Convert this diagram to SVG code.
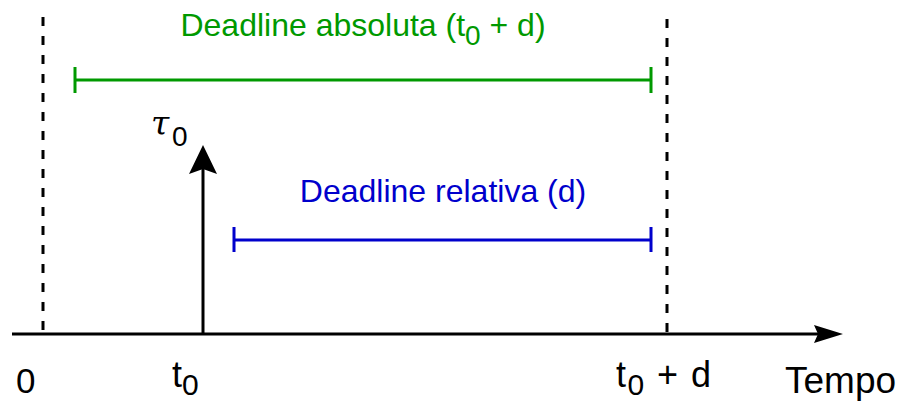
<svg xmlns="http://www.w3.org/2000/svg" width="902" height="401" viewBox="0 0 902 401">
<style>
  .txt { font-family: "Liberation Sans", Arial, sans-serif; }
  .axis { stroke: #000; stroke-width: 3; fill: none; }
  .dash { stroke: #000; stroke-width: 3; stroke-dasharray: 9 10; fill: none; }
  .green { stroke: #009900; stroke-width: 3; fill: none; }
  .blue { stroke: #0000CC; stroke-width: 3; fill: none; }
</style>
<rect width="902" height="401" fill="#fff"/>
<g id="connectors">
  <line class="axis" x1="12" y1="334" x2="820" y2="334"/>
  <polygon points="814,325 843,334 814,343 818,334" fill="#000"/>
  <line class="axis" x1="203" y1="334" x2="203" y2="168"/>
  <polygon points="189,174 203,145 217,174 203,169" fill="#000"/>
  <line class="dash" x1="43" y1="17" x2="43" y2="334"/>
  <line class="dash" x1="667" y1="19" x2="667" y2="334"/>
</g>
<g id="absolute-deadline">
  <path class="green" d="M75,80 H651 M75,67 V93 M651,67 V93"/>
  <text class="txt" x="363" y="36" font-size="32" fill="#009900" text-anchor="middle">Deadline absoluta (t<tspan font-size="28" dy="9">0</tspan><tspan dy="-9"> + d)</tspan></text>
</g>
<g id="relative-deadline">
  <path class="blue" d="M234,240 H651 M234,227 V252 M651,227 V252"/>
  <text class="txt" x="443" y="202" font-size="32" fill="#0000CC" text-anchor="middle">Deadline relativa (d)</text>
</g>
<g id="task">
  <text x="151" y="135" font-family="'DejaVu Serif', serif" font-style="italic" font-size="33" fill="#000">τ</text>
  <text class="txt" x="172" y="146" font-size="28" fill="#000">0</text>
</g>
<g id="labels">
  <text class="txt" x="16" y="393" font-size="35" fill="#000">0</text>
  <text class="txt" x="172" y="387" font-size="36" fill="#000">t<tspan font-size="30" dy="8">0</tspan></text>
  <text class="txt" x="616" y="387" font-size="36" fill="#000" textLength="95">t<tspan font-size="30" dy="8">0</tspan><tspan dy="-8"> + d</tspan></text>
  <text class="txt" x="785" y="393" font-size="37" fill="#000">Tempo</text>
</g>
</svg>
